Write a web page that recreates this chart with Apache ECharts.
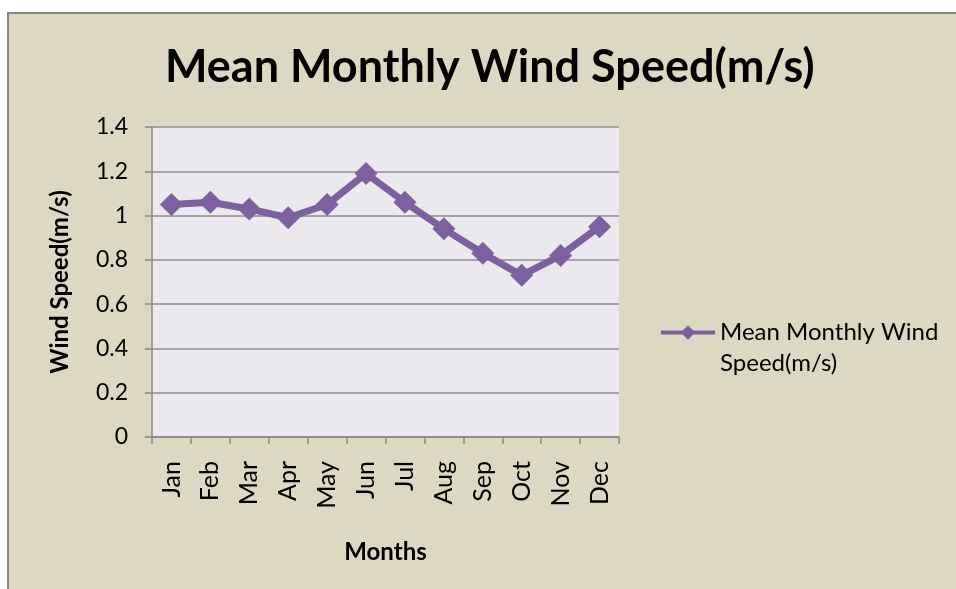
<!DOCTYPE html>
<html>
<head>
<meta charset="utf-8">
<script src="https://cdn.jsdelivr.net/npm/echarts@6/dist/echarts.min.js"></script>
<style>
  html, body { margin: 0; padding: 0; background: #ffffff; }
  #chart { width: 956px; height: 589px; }
</style>
</head>
<body>
<div id="chart"></div>
<script>
// data
const months = ['Jan', 'Feb', 'Mar', 'Apr', 'May', 'Jun', 'Jul', 'Aug', 'Sep', 'Oct', 'Nov', 'Dec']
const windSpeed = [1.05, 1.06, 1.03, 0.99, 1.05, 1.19, 1.06, 0.94, 0.83, 0.73, 0.82, 0.95]
const seriesName = 'Mean Monthly Wind Speed(m/s)'

const fontFamily = 'Lato, "Open Sans", sans-serif'
const purple = '#7d60a0'

const chart = echarts.init(document.getElementById('chart'))

const option = {
  backgroundColor: '#ffffff',
  // tan chart frame with grey top / left edge
  graphic: [
    { type: 'rect', left: 7, top: 12, z: -10, shape: { width: 949, height: 577 }, style: { fill: '#868686' } },
    { type: 'rect', left: 9, top: 14, z: -9, shape: { width: 947, height: 575 }, style: { fill: '#ddd8c2' } }
  ],
  title: {
    text: seriesName,
    left: 160,
    top: 40,
    textStyle: { fontFamily, fontSize: 45, fontWeight: 'bold', color: '#000000' }
  },
  legend: {
    left: 659,
    top: 286,
    padding: 0,
    itemWidth: 54,
    itemHeight: 18,
    data: [seriesName],
    lineStyle: { width: 4 },
    formatter() {
      // empty first line keeps the icon level with the first text line
      return '\nMean Monthly Wind\nSpeed(m/s)'
    },
    textStyle: {
      fontFamily,
      fontSize: 24,
      color: '#000000',
      lineHeight: 31
    }
  },
  grid: {
    left: 152,
    top: 127,
    right: 337,
    bottom: 152,
    show: true,
    backgroundColor: '#ebe9ee',
    borderWidth: 0
  },
  xAxis: {
    type: 'category',
    data: months,
    boundaryGap: true,
    name: 'Months',
    nameLocation: 'middle',
    nameGap: 103,
    nameTextStyle: { fontFamily, fontSize: 24, fontWeight: 'bold', color: '#000000' },
    axisLine: { lineStyle: { color: '#868686', width: 1.5 } },
    axisTick: { show: true, length: 7, lineStyle: { color: '#868686', width: 1.5 } },
    axisLabel: { rotate: 90, margin: 24, fontFamily, fontSize: 25, color: '#000000', interval: 0 },
    splitLine: { show: false }
  },
  yAxis: {
    type: 'value',
    min: 0,
    max: 1.4,
    interval: 0.2,
    name: 'Wind Speed(m/s)',
    nameLocation: 'middle',
    nameGap: 80,
    nameTextStyle: { fontFamily, fontSize: 24, fontWeight: 'bold', color: '#000000' },
    axisLine: { show: true, lineStyle: { color: '#868686', width: 1.5 } },
    axisTick: { show: true, length: 7, lineStyle: { color: '#868686', width: 1.5 } },
    axisLabel: {
      margin: 24,
      fontFamily,
      fontSize: 23,
      color: '#000000',
      formatter(value) {
        return String(Math.round(value * 10) / 10)
      }
    },
    splitLine: { show: true, lineStyle: { color: '#8e8e8e', width: 1.5 } }
  },
  series: [
    {
      name: seriesName,
      type: 'line',
      data: windSpeed,
      symbol: 'diamond',
      symbolSize: 23,
      color: purple,
      lineStyle: { color: purple, width: 7 },
      itemStyle: { color: purple },
      animation: false
    }
  ]
}

chart.setOption(option)
</script>
</body>
</html>
